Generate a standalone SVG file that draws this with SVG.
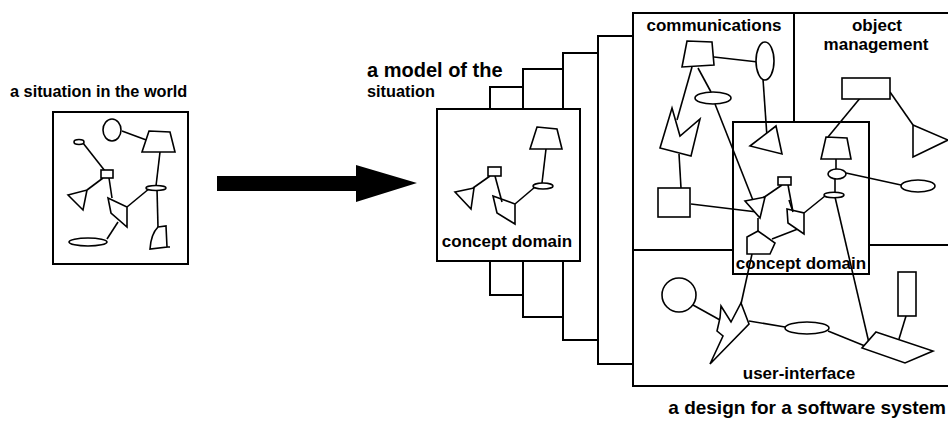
<svg xmlns="http://www.w3.org/2000/svg" width="948" height="423" viewBox="0 0 948 423">
  <style>
    .box { fill: none; stroke: #000; stroke-width: 2; }
    .front { fill: #fff; stroke: #000; stroke-width: 2; }
    .shp { fill: #fff; stroke: #000; stroke-width: 1.6; stroke-linejoin: miter; }
    .ln { fill: none; stroke: #000; stroke-width: 1.6; }
    .lbl { font-family: "Liberation Sans", Arial, Helvetica, sans-serif; font-weight: bold; font-size: 17px; fill: #000; }
    .mid { text-anchor: middle; }
  </style>

  <rect width="948" height="423" fill="#fff"/>

  <!-- Left panel: the situation in the world -->
  <g id="world">
    <text class="lbl" x="10" y="97" style="font-size:16.3px">a situation in the world</text>
    <rect class="box" x="53" y="112" width="135" height="152"/>
    <g class="links">
      <line class="ln" x1="122" y1="131" x2="149" y2="141"/>
      <line class="ln" x1="160" y1="152" x2="156" y2="186"/>
      <line class="ln" x1="83" y1="143" x2="105" y2="171"/>
      <line class="ln" x1="103" y1="178" x2="87" y2="190"/>
      <line class="ln" x1="109" y1="178" x2="112" y2="198"/>
      <line class="ln" x1="127" y1="207" x2="150" y2="188"/>
      <line class="ln" x1="118" y1="222" x2="107" y2="239"/>
      <line class="ln" x1="157" y1="189" x2="158" y2="227"/>
    </g>
    <ellipse class="shp" cx="112" cy="130" rx="9" ry="11"/>
    <polygon class="shp" points="149,131 170,132 175,152 142,152"/>
    <ellipse class="shp" cx="156" cy="188" rx="10" ry="2.5"/>
    <ellipse class="shp" cx="79" cy="142" rx="5" ry="2.5"/>
    <rect class="shp" x="101" y="170" width="12" height="8"/>
    <polygon class="shp" points="68,195 87,190 83,210"/>
    <polygon class="shp" points="108,198 127,207 127,227 111,213"/>
    <ellipse class="shp" cx="88" cy="242" rx="19" ry="4"/>
    <path class="shp" d="M158,227 L166,226 L167,247 L150,249 Q151,234 158,227 Z M167,247 L170,247"/>
  </g>

  <!-- Transformation arrow -->
  <g id="arrow">
    <polygon points="217,176 356,176 356,165 417,183 356,202 356,191 217,191" fill="#000"/>
  </g>

  <!-- Middle panel: stacked model layers -->
  <g id="model">
    <text class="lbl" x="367" y="77" style="font-size:20px">a model of the</text>
    <text class="lbl" x="367" y="97" style="font-size:16.3px">situation</text>
    <path class="box" d="M490,109 V87 H523 V69 H563 V53 H598 V36 H633"/>
    <path class="box" d="M490,261 V295 H523 V317 H563 V340 H598 V364 H633"/>
    <line class="box" x1="523" y1="87" x2="523" y2="295"/>
    <line class="box" x1="563" y1="69" x2="563" y2="317"/>
    <line class="box" x1="598" y1="53" x2="598" y2="340"/>
    <rect class="front" x="437" y="109" width="143" height="152"/>
    <g class="links">
      <line class="ln" x1="546" y1="149" x2="542" y2="183"/>
      <line class="ln" x1="535" y1="187" x2="515" y2="204"/>
      <line class="ln" x1="490" y1="176" x2="473" y2="188"/>
    </g>
    <polygon class="shp" points="537,127 557,129 562,149 530,149"/>
    <ellipse class="shp" cx="543" cy="186" rx="10" ry="3"/>
    <polygon class="shp" points="493,196 515,204 515,224 497,213"/>
    <line class="ln" x1="495" y1="176" x2="502" y2="202"/>
    <rect class="shp" x="488" y="167" width="13" height="9"/>
    <polygon class="shp" points="455,192 474,188 471,209"/>
    <text class="lbl mid" x="507" y="247">concept domain</text>
  </g>

  <!-- Right panel: software system design -->
  <g id="system">
    <rect class="box" x="633" y="13" width="330" height="373"/>
    <line class="box" x1="794" y1="13" x2="794" y2="122"/>
    <line class="box" x1="633" y1="250" x2="733" y2="250"/>
    <line class="box" x1="869" y1="245" x2="950" y2="245"/>
    <rect class="box" x="733" y="122" width="136" height="152"/>
    <text class="lbl mid" x="714" y="31">communications</text>
    <text class="lbl mid" x="877" y="31">object</text>
    <text class="lbl mid" x="876" y="50">management</text>
    <text class="lbl mid" x="801" y="269">concept domain</text>
    <text class="lbl mid" x="799" y="379">user-interface</text>
  </g>

  <!-- Connectors between system components -->
  <g id="connectors">
    <line class="ln" x1="714" y1="57" x2="758" y2="62"/>
    <line class="ln" x1="763" y1="79" x2="767" y2="137"/>
    <line class="ln" x1="698" y1="68" x2="711" y2="92"/>
    <line class="ln" x1="715" y1="104" x2="758" y2="213"/>
    <line class="ln" x1="692" y1="67" x2="677" y2="120"/>
    <line class="ln" x1="679" y1="154" x2="681" y2="188"/>
    <line class="ln" x1="691" y1="204" x2="757" y2="212"/>
    <line class="ln" x1="861" y1="97" x2="828" y2="137"/>
    <line class="ln" x1="890" y1="92" x2="913" y2="125"/>
    <line class="ln" x1="836" y1="159" x2="836" y2="169"/>
    <line class="ln" x1="846" y1="173" x2="901" y2="185"/>
    <line class="ln" x1="835" y1="178" x2="835" y2="192"/>
    <line class="ln" x1="825" y1="196" x2="804" y2="213"/>
    <line class="ln" x1="788" y1="185" x2="793" y2="212"/>
    <line class="ln" x1="782" y1="185" x2="763" y2="198"/>
    <line class="ln" x1="758" y1="218" x2="758" y2="231"/>
    <line class="ln" x1="772" y1="239" x2="803" y2="227"/>
    <line class="ln" x1="752" y1="254" x2="741" y2="304"/>
    <line class="ln" x1="835" y1="197" x2="869" y2="343"/>
    <line class="ln" x1="693" y1="305" x2="720" y2="320"/>
    <line class="ln" x1="749" y1="321" x2="785" y2="327"/>
    <line class="ln" x1="828" y1="331" x2="865" y2="346"/>
    <line class="ln" x1="899" y1="339" x2="906" y2="316"/>
  </g>

  <!-- Communications components -->
  <g id="comm-trapezoid"><polygon class="shp" points="687,41 712,42 714,65 682,67"/></g>
  <g id="comm-ellipse-v"><ellipse class="shp" cx="765" cy="61" rx="9" ry="19"/></g>
  <g id="comm-ellipse-h"><ellipse class="shp" cx="713" cy="98" rx="18" ry="6"/></g>
  <g id="comm-crown"><polygon class="shp" points="672,108 680,136 700,119 691,156 660,148"/></g>
  <g id="comm-square"><rect class="shp" x="658" y="188" width="32" height="29"/></g>
  <g id="comm-triangle"><polygon class="shp" points="750,146 776,126 782,154"/></g>

  <!-- Object management components -->
  <g id="obj-rect"><rect class="shp" x="842" y="78" width="48" height="21"/></g>
  <g id="obj-triangle"><polygon class="shp" points="913,125 948,140 913,157"/></g>
  <g id="obj-ellipse"><ellipse class="shp" cx="918" cy="186" rx="17" ry="6"/></g>

  <!-- Concept domain components -->
  <g id="cd-trapezoid"><polygon class="shp" points="826,137 847,138 851,159 821,159"/></g>
  <g id="cd-ellipse"><ellipse class="shp" cx="837" cy="174" rx="9" ry="5"/></g>
  <g id="cd-ellipse-small"><ellipse class="shp" cx="834" cy="195" rx="10" ry="2.7"/></g>
  <g id="cd-kite"><polygon class="shp" points="787,209 804,213 804,234 788,223"/><line class="ln" x1="789" y1="200" x2="793" y2="212"/></g>
  <g id="cd-rect"><rect class="shp" x="778" y="177" width="13" height="8"/></g>
  <g id="cd-triangle"><polygon class="shp" points="745,201 765,197 760,218"/></g>
  <g id="cd-pentagon"><polygon class="shp" points="747,237 758,231 775,243 770,254 747,254"/></g>

  <!-- User-interface components -->
  <g id="ui-circle"><circle class="shp" cx="679" cy="295" r="17"/></g>
  <g id="ui-crown"><polygon class="shp" points="721,306 731,322 741,303 749,324 710,364 723,336 717,331 720,318"/></g>
  <g id="ui-ellipse"><ellipse class="shp" cx="807" cy="328" rx="22" ry="6"/></g>
  <g id="ui-parallelogram"><polygon class="shp" points="876,332 933,351 905,363 862,348"/></g>
  <g id="ui-rect"><rect class="shp" x="898" y="272" width="18" height="44"/></g>

  <text class="lbl" x="946" y="414" style="font-size:19px;text-anchor:end">a design for a software system</text>
</svg>
